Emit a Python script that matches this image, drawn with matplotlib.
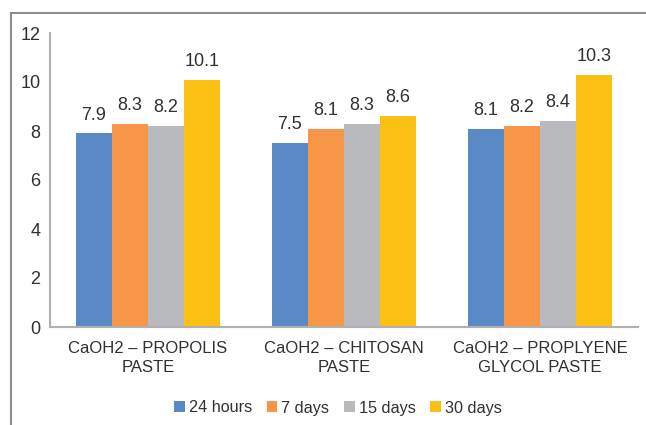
import matplotlib
matplotlib.use("Agg")
import matplotlib.pyplot as plt
import numpy as np
from matplotlib.patches import Rectangle

categories = ["CaOH2 – PROPOLIS\nPASTE", "CaOH2 – CHITOSAN\nPASTE", "CaOH2 – PROPLYENE\nGLYCOL PASTE"]
series_names = ["24 hours", "7 days", "15 days", "30 days"]
h24 = [7.9, 7.5, 8.1]
d7 = [8.3, 8.1, 8.2]
d15 = [8.2, 8.3, 8.4]
d30 = [10.1, 8.6, 10.3]
colors = ["#5a8ac6", "#f79646", "#b9babd", "#fcc012"]
yticks = [0, 2, 4, 6, 8, 10, 12]

plt.rcParams['font.family'] = ['Liberation Sans', 'DejaVu Sans']
fig = plt.figure(figsize=(6.46, 4.25), dpi=100)
fig.patches.append(Rectangle((11/646, -0.1), 1.0, 1 - 13/425 + 0.1, transform=fig.transFigure,
                             fill=False, edgecolor="#8c8c8c", linewidth=1.5))
ax = fig.add_axes([50/646, 1 - 327/425, 588/646, 294/425])

x = np.arange(len(categories))
bw = 0.1837
data = [h24, d7, d15, d30]
for i, (vals, name, c) in enumerate(zip(data, series_names, colors)):
    pos = x + (i - 1.5) * bw
    ax.bar(pos, vals, bw, color=c, label=name)
    for p, v in zip(pos, vals):
        ax.text(p, v + 0.4, f"{v}", ha="center", va="bottom", fontsize=13, color="#303030")

ax.set_xlim(-0.5, 2.5)
ax.set_ylim(0, 12)
ax.set_yticks(yticks)
ax.set_yticklabels([str(t) for t in yticks], fontsize=13, color="#303030")
ax.set_xticks(x)
ax.set_xticklabels(categories, fontsize=12, color="#303030", linespacing=1.35)
ax.tick_params(axis="both", length=0)
ax.tick_params(axis="y", pad=7)
ax.tick_params(axis="x", pad=10)
for s in ["top", "right"]:
    ax.spines[s].set_visible(False)
ax.spines["left"].set_color("#b0b0b0")
ax.spines["bottom"].set_color("#b0b0b0")
ax.spines["left"].set_linewidth(1.5)
ax.spines["bottom"].set_linewidth(1.5)

fig.legend(loc="center", bbox_to_anchor=(338/646, 1 - 408/425), ncol=4, frameon=False,
           fontsize=11.7, handlelength=0.65, handleheight=0.65, handletextpad=0.25, columnspacing=0.9,
           labelcolor="#303030")

fig.savefig("out.png", dpi=100)
